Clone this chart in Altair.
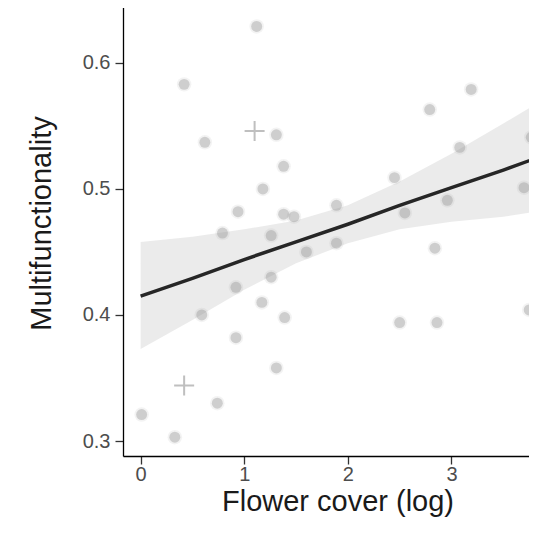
import altair as alt
import pandas as pd

# scatter points (Flower cover (log), Multifunctionality)
pt_x = [0.01, 0.33, 0.74, 0.42, 0.62, 1.12, 1.31, 1.38, 1.18, 0.94, 0.79, 1.26, 1.38, 1.48,
        1.60, 1.89, 1.89, 2.45, 2.55, 2.96, 3.08, 2.79, 3.19, 3.77, 3.70, 1.26, 0.92, 1.17,
        0.59, 1.39, 0.92, 1.31, 2.84, 2.50, 2.86, 3.75]
pt_y = [0.321, 0.303, 0.330, 0.583, 0.537, 0.629, 0.543, 0.518, 0.500, 0.482, 0.465, 0.463,
        0.480, 0.478, 0.450, 0.487, 0.457, 0.509, 0.481, 0.491, 0.533, 0.563, 0.579, 0.541,
        0.501, 0.430, 0.422, 0.410, 0.400, 0.398, 0.382, 0.358, 0.453, 0.394, 0.394, 0.404]

# plus-shaped points
plus_x = [0.42, 1.10]
plus_y = [0.344, 0.546]

# fitted line and confidence band
fit_x = [0.0, 0.5, 1.0, 1.5, 2.0, 2.5, 3.0, 3.5, 3.97]
fit_y = [0.415, 0.429, 0.444, 0.458, 0.472, 0.487, 0.501, 0.515, 0.529]
fit_lo = [0.373, 0.396, 0.420, 0.441, 0.457, 0.468, 0.474, 0.478, 0.484]
fit_hi = [0.458, 0.462, 0.468, 0.475, 0.487, 0.506, 0.528, 0.552, 0.575]

x_ticks = [0, 1, 2, 3]
y_ticks = [0.3, 0.4, 0.5, 0.6]

pts = pd.DataFrame({"x": pt_x, "y": pt_y})
plus = pd.DataFrame({"x": plus_x, "y": plus_y})
fit = pd.DataFrame({"x": fit_x, "y": fit_y, "lo": fit_lo, "hi": fit_hi})

xscale = alt.Scale(domain=[-0.17, 3.97], nice=False, zero=False)
yscale = alt.Scale(domain=[0.2881, 0.6444], nice=False, zero=False)

font = "Liberation Sans"

xaxis = alt.Axis(values=x_ticks, title="Flower cover (log)", grid=False, format="d",
                 domainColor="#000000", domainWidth=1.3, tickColor="#333333", tickWidth=1.3,
                 tickSize=8, labelColor="#4d4d4d", labelFontSize=20, labelFont=font,
                 labelPadding=0, titleFont=font, titleFontSize=29, titleFontWeight="normal",
                 titleColor="#1a1a1a", titleY=31)
yaxis = alt.Axis(values=y_ticks, title="Multifunctionality", grid=False, format=".1f",
                 domainColor="#000000", domainWidth=1.3, tickColor="#333333", tickWidth=1.3,
                 tickSize=8, labelColor="#4d4d4d", labelFontSize=20, labelFont=font,
                 labelPadding=5, titleFont=font, titleFontSize=29, titleFontWeight="normal",
                 titleColor="#1a1a1a", titlePadding=26, titleY=216)

base_x = alt.X("x:Q", scale=xscale, axis=xaxis)
base_y = alt.Y("y:Q", scale=yscale, axis=yaxis)

band = alt.Chart(fit).mark_area(color="#9a9a9a", opacity=0.2, clip=True).encode(
    x=alt.X("x:Q", scale=xscale, axis=xaxis),
    y=alt.Y("lo:Q", scale=yscale, axis=yaxis),
    y2="hi:Q",
)

halo = alt.Chart(pts).mark_circle(color="#9a9a9a", opacity=0.12, size=210, clip=True).encode(
    x=base_x, y=base_y
)
points = alt.Chart(pts).mark_circle(color="#8c8c8c", opacity=0.36, size=120, clip=True).encode(
    x=base_x, y=base_y
)

pluses = alt.Chart(plus).mark_point(
    shape="M-1,0L1,0M0,-1L0,1", size=400, color="#8c8c8c", strokeWidth=2,
    opacity=0.55, filled=False, clip=True
).encode(x=base_x, y=base_y)

line = alt.Chart(fit).mark_line(color="#262626", strokeWidth=3.5, clip=True).encode(
    x=base_x, y=base_y
)

chart = alt.layer(band, halo, points, pluses, line).properties(
    width=429, height=449,
    autosize=alt.AutoSizeParams(type="none"),
    padding={"left": 115, "top": -1, "right": -23, "bottom": 70},
).configure_view(stroke=None).configure(background="white")

chart.save("out.html", embed_options={"renderer": "svg", "actions": False})
